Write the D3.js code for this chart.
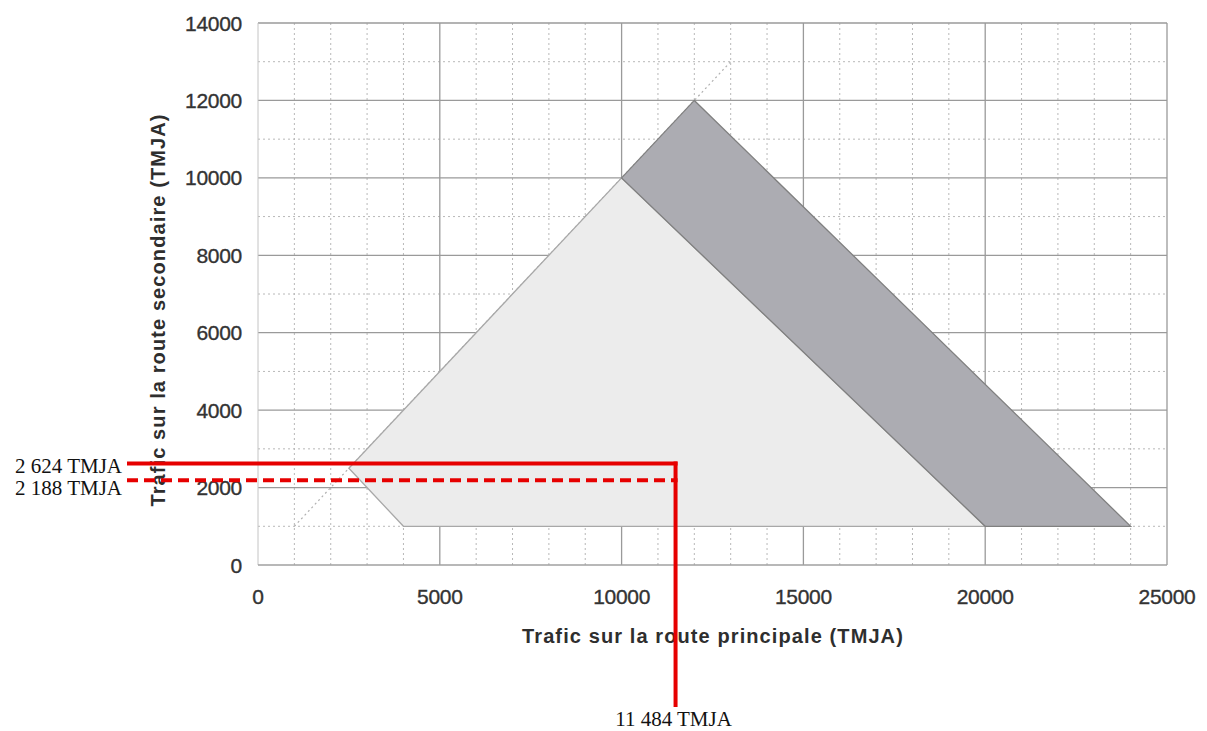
<!DOCTYPE html>
<html>
<head>
<meta charset="utf-8">
<script src="https://cdn.jsdelivr.net/npm/d3@7"></script>
<style>
  html, body { margin: 0; padding: 0; background: #fff; }
  svg { display: block; }
</style>
</head>
<body>
<svg id="chart" width="1207" height="731"></svg>
<script>
// ---- data ----
const xTicks = [0, 5000, 10000, 15000, 20000, 25000];
const yTicks = [0, 2000, 4000, 6000, 8000, 10000, 12000, 14000];
const xMinor = [1000, 2000, 3000, 4000, 6000, 7000, 8000, 9000, 11000, 12000, 13000, 14000, 16000, 17000, 18000, 19000, 21000, 22000, 23000, 24000];
const yMinor = [1000, 3000, 5000, 7000, 9000, 11000, 13000];
// light zone polygon [principal, secondaire]
const lightZone = [[2500, 2500], [4000, 1000], [20000, 1000], [10000, 10000]];
// dark zone polygon
const darkZone = [[10000, 10000], [12000, 12000], [24000, 1000], [20000, 1000]];
// diagonal reference line y = x
const diagonal = [[1000, 1000], [13000, 13000]];
// annotations
const annotX = 11484;
const annotY1 = 2624;
const annotY2 = 2188;
const annotLabels = ["2 624 TMJA", "2 188 TMJA", "11 484 TMJA"];
const xTitle = "Trafic sur la route principale (TMJA)";
const yTitle = "Trafic sur la route secondaire (TMJA)";

// ---- layout ----
const svg = d3.select("#chart");
const x = d3.scaleLinear().domain([0, 25000]).range([258, 1167]);
const y = d3.scaleLinear().domain([0, 14000]).range([565, 23]);

const g = svg.append("g");

// minor grid (dotted)
g.selectAll(".vminor").data(xMinor).join("line")
  .attr("x1", d => x(d)).attr("x2", d => x(d))
  .attr("y1", y(0)).attr("y2", y(14000))
  .attr("stroke", "#b8b8b8").attr("stroke-width", 1)
  .attr("stroke-dasharray", "2,3");
g.selectAll(".hminor").data(yMinor).join("line")
  .attr("y1", d => y(d)).attr("y2", d => y(d))
  .attr("x1", x(0)).attr("x2", x(25000))
  .attr("stroke", "#b8b8b8").attr("stroke-width", 1)
  .attr("stroke-dasharray", "2,3");

// major grid (solid)
g.selectAll(".vmajor").data(xTicks.filter(d => d > 0)).join("line")
  .attr("x1", d => x(d)).attr("x2", d => x(d))
  .attr("y1", y(0)).attr("y2", y(14000))
  .attr("stroke", "#9a9a9a").attr("stroke-width", 1.3);
g.selectAll(".hmajor").data(yTicks.filter(d => d > 0)).join("line")
  .attr("y1", d => y(d)).attr("y2", d => y(d))
  .attr("x1", x(0)).attr("x2", x(25000))
  .attr("stroke", "#9a9a9a").attr("stroke-width", 1.3);

// left axis line (light) and bottom axis
g.append("line").attr("x1", x(0)).attr("x2", x(0)).attr("y1", y(0)).attr("y2", y(14000))
  .attr("stroke", "#c4c4c4").attr("stroke-width", 1);
g.append("line").attr("x1", x(0)).attr("x2", x(25000)).attr("y1", y(0)).attr("y2", y(0))
  .attr("stroke", "#a0a0a0").attr("stroke-width", 1.3);

// diagonal dotted line
g.append("line")
  .attr("x1", x(diagonal[0][0])).attr("y1", y(diagonal[0][1]))
  .attr("x2", x(diagonal[1][0])).attr("y2", y(diagonal[1][1]))
  .attr("stroke", "#b0b0b0").attr("stroke-width", 1.2)
  .attr("stroke-dasharray", "2,3");

const poly = pts => "M" + pts.map(p => x(p[0]) + "," + y(p[1])).join("L") + "Z";

// zones
g.append("path").attr("d", poly(lightZone))
  .attr("fill", "#ececec").attr("stroke", "#a8a8a8").attr("stroke-width", 1.3);
g.append("path").attr("d", poly(darkZone))
  .attr("fill", "#acacb2").attr("stroke", "#808080").attr("stroke-width", 1.3);

// tick labels
const tickFont = "'Liberation Sans', Arial, sans-serif";
g.selectAll(".ylab").data(yTicks).join("text")
  .attr("x", 242).attr("y", d => y(d)).attr("dy", "0.36em")
  .attr("text-anchor", "end")
  .attr("font-family", tickFont).attr("font-size", 21)
  .attr("fill", "#333").attr("stroke", "#333").attr("stroke-width", 0.35)
  .attr("letter-spacing", "-0.3")
  .text(d => d);
g.selectAll(".xlab").data(xTicks).join("text")
  .attr("x", d => x(d)).attr("y", 604)
  .attr("text-anchor", "middle")
  .attr("font-family", tickFont).attr("font-size", 21)
  .attr("fill", "#333").attr("stroke", "#333").attr("stroke-width", 0.35)
  .attr("letter-spacing", "-0.3")
  .text(d => d);

// axis titles
svg.append("text")
  .attr("x", 713).attr("y", 643)
  .attr("text-anchor", "middle")
  .attr("font-family", tickFont).attr("font-weight", "bold").attr("font-size", 20)
  .attr("letter-spacing", "1.1")
  .attr("fill", "#2e2e2e")
  .text(xTitle);
svg.append("text")
  .attr("transform", "translate(165,310) rotate(-90)")
  .attr("text-anchor", "middle")
  .attr("font-family", tickFont).attr("font-weight", "bold").attr("font-size", 20)
  .attr("letter-spacing", "1.1")
  .attr("fill", "#2e2e2e")
  .text(yTitle);

// red annotations
const red = "#e60000";
svg.append("line")
  .attr("x1", 127).attr("x2", x(annotX) + 2)
  .attr("y1", y(annotY1)).attr("y2", y(annotY1))
  .attr("stroke", red).attr("stroke-width", 4);
svg.append("line")
  .attr("x1", 127).attr("x2", x(annotX) + 2)
  .attr("y1", y(annotY2)).attr("y2", y(annotY2))
  .attr("stroke", red).attr("stroke-width", 4)
  .attr("stroke-dasharray", "11,6");
svg.append("line")
  .attr("x1", x(annotX)).attr("x2", x(annotX))
  .attr("y1", y(annotY1) - 2).attr("y2", 707)
  .attr("stroke", red).attr("stroke-width", 4);

const serif = "'Liberation Serif', 'Times New Roman', serif";
svg.append("text").attr("x", 122).attr("y", 473).attr("text-anchor", "end")
  .attr("font-family", serif).attr("font-size", 21).attr("fill", "#111")
  .text(annotLabels[0]);
svg.append("text").attr("x", 122).attr("y", 495).attr("text-anchor", "end")
  .attr("font-family", serif).attr("font-size", 21).attr("fill", "#111")
  .text(annotLabels[1]);
svg.append("text").attr("x", x(annotX) - 2).attr("y", 726).attr("text-anchor", "middle")
  .attr("font-family", serif).attr("font-size", 21).attr("fill", "#111")
  .text(annotLabels[2]);
</script>
</body>
</html>
